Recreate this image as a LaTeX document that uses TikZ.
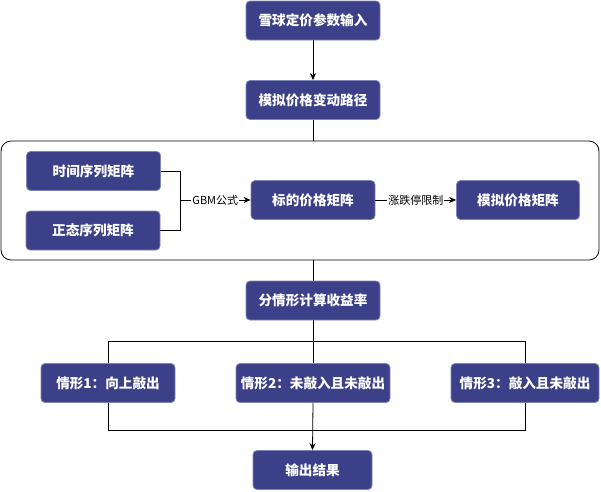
\documentclass[tikz,border=0pt]{standalone}
\usepackage{fontspec}
\newfontfamily\cjk{Noto Sans CJK SC}
\usetikzlibrary{arrows.meta}
\definecolor{boxblue}{HTML}{3B4088}
\definecolor{boxline}{HTML}{7F84B8}
\begin{document}
\begin{tikzpicture}[x=1pt, y=-1pt,
    box/.style={draw=boxline, fill=boxblue, rounded corners=4pt, text=white,
        inner sep=0pt, minimum height=39pt,
        font=\cjk\bfseries\fontsize{13.6}{15}\selectfont},
    lbl/.style={fill=white, inner sep=1pt, font=\cjk\fontsize{11}{13}\selectfont},
    every path/.style={line width=0.8pt},
    >={Stealth[length=7pt, width=6pt]}]

\useasboundingbox (0,0) rectangle (601,491);

\node[draw, rounded corners=10pt, minimum width=598pt, minimum height=119pt] (grp) at (300,200.5) {};

\node[box, minimum width=134pt] (in) at (313,20.5) {雪球定价参数输入};
\node[box, minimum width=134pt] (path) at (313,100) {模拟价格变动路径};

\node[box, minimum width=134pt] (ts) at (93.5,171) {时间序列矩阵};
\node[box, minimum width=134pt] (nd) at (93,230.5) {正态序列矩阵};
\node[box, minimum width=124pt] (und) at (313,200) {标的价格矩阵};
\node[box, minimum width=123pt] (sim) at (518,200) {模拟价格矩阵};

\node[box, minimum width=134pt] (calc) at (313,300.5) {分情形计算收益率};
\node[box, minimum width=134pt] (c1) at (108,383) {情形1：向上敲出};
\node[box, minimum width=154pt] (c2) at (313,383) {情形2：未敲入且未敲出};
\node[box, minimum width=148pt] (c3) at (525,383) {情形3：敲入且未敲出};
\node[box, minimum width=119pt] (out) at (312.5,470) {输出结果};

\coordinate (gbm) at (180,200);
\coordinate (split) at (313,341);
\coordinate (merge) at (313,430);

\draw[->] (in) -- (path);
\draw (path.south) -- (path.south |- grp.north);
\draw (calc.north |- grp.south) -- (calc.north);

\draw (ts.east) -| (gbm);
\draw (nd.east) -| (gbm);
\draw[->] (gbm) -- node[lbl] {GBM公式} (und.west);
\draw[->] (und.east) -- node[lbl] {涨跌停限制} (sim.west);

\draw (calc.south) -- (c2.north);
\foreach \c in {c1,c3}{
    \draw (split) -| (\c.north);
    \draw (\c.south) |- (merge);
}
\draw[->] (c2.south) -- (out.north);

\end{tikzpicture}
\end{document}
